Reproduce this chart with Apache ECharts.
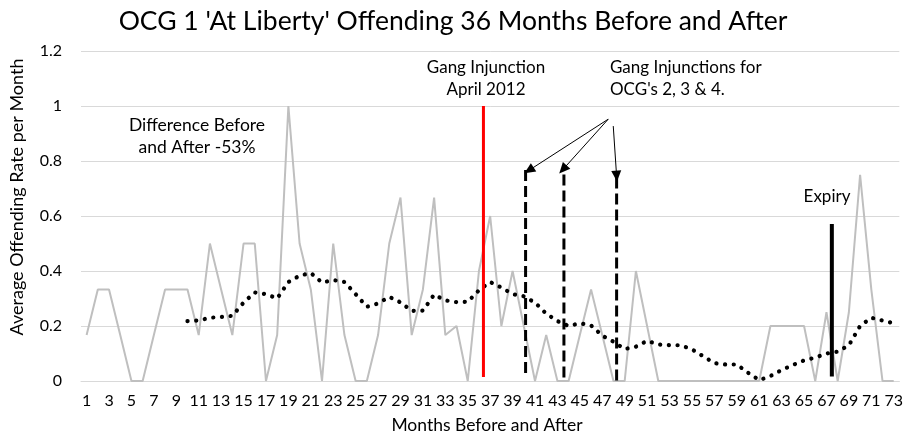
<!DOCTYPE html>
<html>
<head>
<meta charset="utf-8">
<script src="https://cdn.jsdelivr.net/npm/echarts@6/dist/echarts.min.js"></script>
<style>
html,body{margin:0;padding:0;background:#fff;}
#chart{width:906px;height:438px;}
</style>
</head>
<body>
<div id="chart"></div>
<script>
// ---- data ----
const months = ['1','2','3','4','5','6','7','8','9','10','11','12','13','14','15','16','17','18','19','20',
  '21','22','23','24','25','26','27','28','29','30','31','32','33','34','35','36','37','38','39','40',
  '41','42','43','44','45','46','47','48','49','50','51','52','53','54','55','56','57','58','59','60',
  '61','62','63','64','65','66','67','68','69','70','71','72','73'];
const monthlyRate = [0.167,0.333,0.333,0.167,0,0,0.167,0.333,0.333,0.333,
  0.167,0.5,0.333,0.167,0.5,0.5,0,0.167,1.0,0.5,
  0.333,0,0.5,0.167,0,0,0.167,0.5,0.667,0.167,
  0.333,0.667,0.167,0.2,0,0.4,0.6,0.2,0.4,0.2,
  0,0.167,0,0,0.167,0.333,0.167,0,0,0.4,
  0.2,0,0,0,0,0,0,0,0,0,
  0,0.2,0.2,0.2,0.2,0,0.25,0,0.25,0.75,
  0.333,0,0];
const movingAvg = [null,null,null,null,null,null,null,null,null,0.218,
  0.22,0.23,0.233,0.237,0.285,0.322,0.316,0.3,0.36,0.383,
  0.393,0.358,0.367,0.36,0.316,0.27,0.282,0.306,0.286,0.255,
  0.256,0.314,0.293,0.287,0.288,0.33,0.36,0.34,0.316,0.308,
  0.285,0.245,0.218,0.2,0.21,0.202,0.165,0.143,0.116,0.125,
  0.146,0.133,0.13,0.13,0.115,0.09,0.065,0.06,0.06,0.03,
  0.003,0.018,0.04,0.058,0.075,0.085,0.1,0.107,0.13,0.2,
  0.23,0.22,0.21];
const yTicks = [0, 0.2, 0.4, 0.6, 0.8, 1, 1.2];
// annotation marks in data coordinates (month position, value)
const injunctionLine = [[36.4, 0.015], [36.4, 1.0]];
const ocgLines = [
  [[40.16, 0.767], [40.16, 0.015]],
  [[43.58, 0.751], [43.58, 0.0]],
  [[48.28, 0.74], [48.28, 0.0]]
];
const expiryLine = [[67.48, 0.571], [67.48, 0.016]];
const arrows = [
  [[47.53, 0.952], [40.46, 0.766]],
  [[47.53, 0.952], [43.49, 0.769]],
  [[47.98, 0.927], [48.28, 0.745]]
];

const FONT = 'Lato, "Liberation Sans", sans-serif';
const chart = echarts.init(document.getElementById('chart'), null, {renderer: 'canvas'});

const series = [
  {
    name: 'Monthly', type: 'line', data: monthlyRate, xAxisIndex: 0,
    symbol: 'none', lineStyle: {color: '#bfbfbf', width: 2}, z: 2
  },
  {
    name: 'Moving average', type: 'line', data: movingAvg, xAxisIndex: 0,
    symbol: 'none', connectNulls: false,
    lineStyle: {color: '#000', width: 4.2, type: [0.1, 8.6], cap: 'round'}, z: 3
  },
  {
    name: 'Injunction', type: 'line', data: injunctionLine, xAxisIndex: 1,
    symbol: 'none', lineStyle: {color: '#ff0000', width: 3}, z: 4
  },
  {
    name: 'Expiry', type: 'line', data: expiryLine, xAxisIndex: 1,
    symbol: 'none', lineStyle: {color: '#000', width: 4}, z: 4
  }
];
ocgLines.forEach((d, i) => {
  series.push({
    name: 'OCG' + i, type: 'line', data: d, xAxisIndex: 1,
    symbol: 'none', lineStyle: {color: '#000', width: 3, type: [11, 5]}, z: 4,
    markLine: i === 0 ? {
      silent: true, animation: false,
      symbol: ['none', 'triangle'], symbolSize: [10, 11],
      label: {show: false},
      lineStyle: {color: '#000', width: 1, type: 'solid'},
      data: arrows.map(a => [{coord: a[0]}, {coord: a[1]}])
    } : undefined
  });
});

chart.setOption({
  animation: false,
  backgroundColor: '#fff',
  textStyle: {fontFamily: FONT},
  grid: {left: 81, right: 6, top: 51, bottom: 57, containLabel: false},
  xAxis: [
    {
      type: 'category', data: months, boundaryGap: true,
      axisLine: {lineStyle: {color: '#d9d9d9', width: 1}},
      axisTick: {show: false},
      axisLabel: {interval: 1, color: '#000', fontSize: 16, margin: 12, fontFamily: FONT},
      splitLine: {show: false}
    },
    {
      type: 'value', min: 0.5, max: 73.5, show: false, gridIndex: 0
    }
  ],
  yAxis: {
    type: 'value', min: yTicks[0], max: yTicks[yTicks.length - 1], interval: 0.2,
    axisLine: {show: false}, axisTick: {show: false},
    axisLabel: {color: '#000', fontSize: 16, margin: 19, fontFamily: FONT},
    splitLine: {lineStyle: {color: '#d9d9d9', width: 1}}
  },
  series: series,
  graphic: [
    {type: 'text', x: 453, y: 21, style: {text: "OCG 1 'At Liberty' Offending 36 Months Before and After",
      font: '26.5px ' + FONT, fill: '#000', align: 'center', verticalAlign: 'middle'}},
    {type: 'text', x: 17, y: 197, rotation: Math.PI / 2,
      style: {text: 'Average Offending Rate per Month', font: '18px ' + FONT, fill: '#000', align: 'center', verticalAlign: 'middle'}},
    {type: 'text', x: 487, y: 425,
      style: {text: 'Months Before and After', font: '17.5px ' + FONT, fill: '#000', align: 'center', verticalAlign: 'middle'}},
    {type: 'text', x: 486, y: 79,
      style: {text: 'Gang Injunction\nApril 2012', font: '17px ' + FONT, lineHeight: 22, fill: '#000', align: 'center', verticalAlign: 'middle'}},
    {type: 'text', x: 610, y: 79,
      style: {text: "Gang Injunctions for\nOCG's 2, 3 & 4.", font: '17px ' + FONT, lineHeight: 22, fill: '#000', align: 'left', verticalAlign: 'middle'}},
    {type: 'text', x: 197, y: 136,
      style: {text: 'Difference Before\nand After -53%', font: '17.5px ' + FONT, lineHeight: 22, fill: '#000', align: 'center', verticalAlign: 'middle'}},
    {type: 'text', x: 827, y: 197,
      style: {text: 'Expiry', font: '17px ' + FONT, fill: '#000', align: 'center', verticalAlign: 'middle'}}
  ]
});
</script>
</body>
</html>
